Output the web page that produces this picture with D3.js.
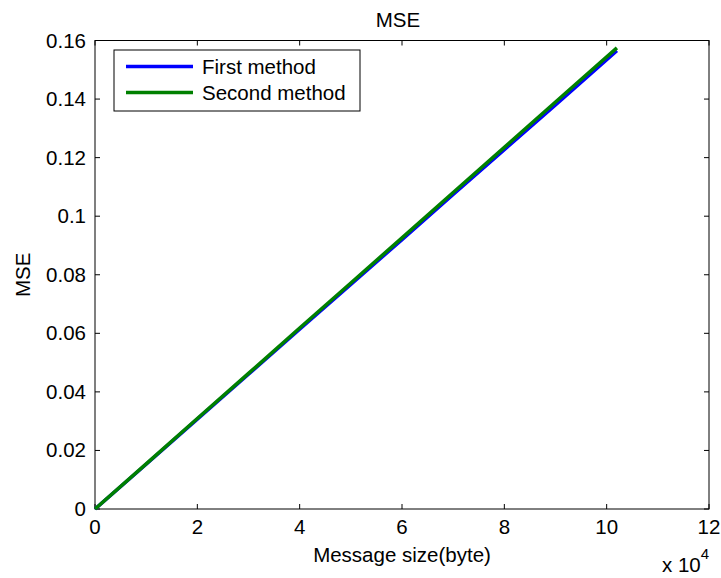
<!DOCTYPE html>
<html>
<head>
<meta charset="utf-8">
<script src="https://cdn.jsdelivr.net/npm/d3@7"></script>
<style>
  body { margin: 0; background: #fff; }
  text { font-family: "Liberation Sans", Arial, sans-serif; fill: #000; }
</style>
</head>
<body>
<div id="vis"></div>
<script>
// data
var sizes = [0, 10000, 20000, 30000, 40000, 50000, 60000, 70000, 80000, 90000, 102000];
var firstMse = [0, 0.0153, 0.0307, 0.0460, 0.0614, 0.0767, 0.0920, 0.1074, 0.1227, 0.1380, 0.1565];
var secondMse = [0, 0.0154, 0.0309, 0.0463, 0.0618, 0.0772, 0.0926, 0.1081, 0.1235, 0.1390, 0.1575];
var xTicks = [0, 2, 4, 6, 8, 10, 12];
var yTicks = [0, 0.02, 0.04, 0.06, 0.08, 0.1, 0.12, 0.14, 0.16];
var seriesNames = ["First method", "Second method"];
var seriesColors = ["#0000ff", "#008000"];

var W = 721, H = 578;
var margin = { top: 40.5, left: 95, right: 12, bottom: 69 };
var width = W - margin.left - margin.right;
var height = H - margin.top - margin.bottom;

var x = d3.scaleLinear().domain([0, 120000]).range([0, width]);
var y = d3.scaleLinear().domain([0, 0.16]).range([height, 0]);

var SVG = d3.select("#vis").append("svg")
    .attr("width", W)
    .attr("height", H);

var svg = SVG.append("g")
    .attr("transform", "translate(" + margin.left + "," + margin.top + ")");

var fs = 20.5;

// ticks (inside, all four sides)
var tickLen = 5;
xTicks.forEach(function(t) {
    var px = x(t * 1e4);
    svg.append("line").attr("x1", px).attr("x2", px).attr("y1", height).attr("y2", height - tickLen)
        .attr("stroke", "#000");
    svg.append("line").attr("x1", px).attr("x2", px).attr("y1", 0).attr("y2", tickLen)
        .attr("stroke", "#000");
    svg.append("text")
        .attr("x", px)
        .attr("y", height + 25)
        .attr("text-anchor", "middle")
        .style("font-size", fs + "px")
        .text(t);
});

yTicks.forEach(function(t) {
    var py = y(t);
    svg.append("line").attr("x1", 0).attr("x2", tickLen).attr("y1", py).attr("y2", py)
        .attr("stroke", "#000");
    svg.append("line").attr("x1", width).attr("x2", width - tickLen).attr("y1", py).attr("y2", py)
        .attr("stroke", "#000");
    svg.append("text")
        .attr("x", -9)
        .attr("y", py + 7)
        .attr("text-anchor", "end")
        .style("font-size", fs + "px")
        .text(d3.format("~g")(t));
});

// box
svg.append("rect")
    .attr("x", 0).attr("y", 0)
    .attr("width", width).attr("height", height)
    .attr("fill", "none")
    .attr("stroke", "#000")
    .attr("stroke-width", 1);

// lines
var line = d3.line()
    .x(function(d) { return x(d[0]); })
    .y(function(d) { return y(d[1]); });

[firstMse, secondMse].forEach(function(vals, i) {
    svg.append("path")
        .datum(sizes.map(function(s, j) { return [s, vals[j]]; }))
        .attr("d", line)
        .attr("fill", "none")
        .attr("stroke", seriesColors[i])
        .attr("stroke-width", 3.5);
});

// legend
var lg = svg.append("g").attr("transform", "translate(19,9.5)");
lg.append("rect")
    .attr("x", 0).attr("y", 0)
    .attr("width", 246).attr("height", 61)
    .attr("fill", "#fff")
    .attr("stroke", "#000");
seriesNames.forEach(function(n, i) {
    var ly = 16.5 + i * 26;
    lg.append("line")
        .attr("x1", 12).attr("x2", 79)
        .attr("y1", ly).attr("y2", ly)
        .attr("stroke", seriesColors[i])
        .attr("stroke-width", 3.5);
    lg.append("text")
        .attr("x", 88)
        .attr("y", ly + 7.5)
        .style("font-size", fs + "px")
        .text(n);
});

// title, axis labels
svg.append("text")
    .attr("x", width / 2 - 4)
    .attr("y", -14)
    .attr("text-anchor", "middle")
    .style("font-size", fs + "px")
    .text("MSE");

svg.append("text")
    .attr("x", width / 2)
    .attr("y", height + 53)
    .attr("text-anchor", "middle")
    .style("font-size", fs + "px")
    .text("Message size(byte)");

svg.append("text")
    .attr("transform", "translate(-65," + (height / 2) + ") rotate(-90)")
    .attr("text-anchor", "middle")
    .style("font-size", fs + "px")
    .text("MSE");

var ex = svg.append("text")
    .attr("x", width - 47)
    .attr("y", height + 63)
    .style("font-size", fs + "px");
ex.append("tspan").text("x 10");
ex.append("tspan").attr("dy", -13).style("font-size", "15px").text("4");
</script>
</body>
</html>
